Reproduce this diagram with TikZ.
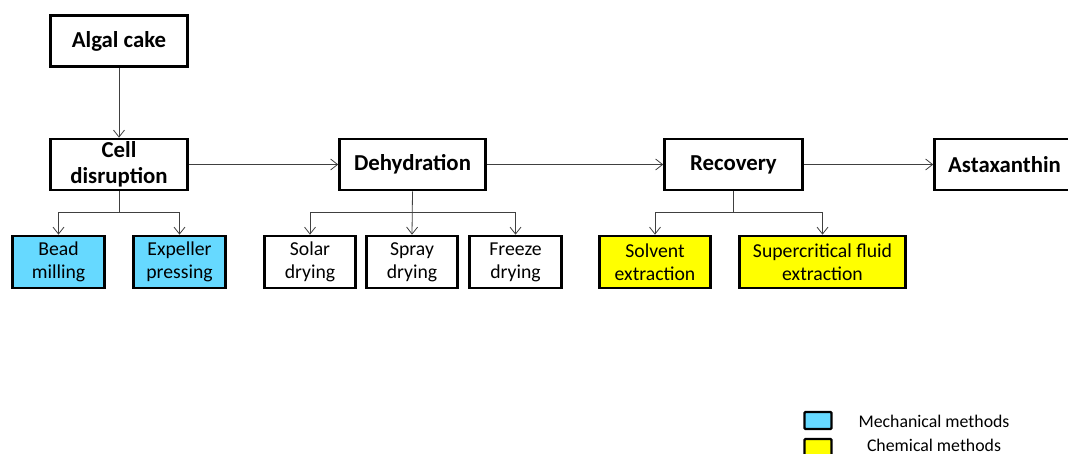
\documentclass[tikz,border=0pt]{standalone}
\usepackage{fontspec}
\setmainfont{Carlito}
\usetikzlibrary{arrows.meta}
\definecolor{mech}{HTML}{66D9FF}
\definecolor{chem}{HTML}{FFFF00}
\tikzset{
  bx/.style={draw=black, line width=2.6pt, fill=white, align=center, inner sep=0pt},
  head/.style={bx, font=\fontsize{22.8}{26}\selectfont\bfseries},
  sub/.style={bx, font=\fontsize{19.7}{23}\selectfont, minimum height=52pt},
  arr/.style={draw=black!75, line width=0.8pt, -{Straight Barb[length=7pt,width=11pt]}},
  ln/.style={draw=black!75, line width=0.8pt},
  leg/.style={draw=black, line width=2.4pt, rounded corners=1pt, minimum width=27pt, minimum height=17pt, inner sep=0pt},
  legtxt/.style={font=\fontsize{17.8}{20}\selectfont, inner sep=0pt}
}
\begin{document}
\begin{tikzpicture}[x=1pt,y=-1pt]
\useasboundingbox (0,0) rectangle (1068,454);
% main chain
\node[head, minimum width=137pt, minimum height=51pt] (algal) at (119,41) {Algal cake};
\node[head, minimum width=137pt, minimum height=51pt] (cell) at (119,164.5) {Cell\\disruption};
\node[head, minimum width=146pt, minimum height=51pt] (dehyd) at (412.5,164.5) {Dehydration};
\node[head, minimum width=138pt, minimum height=51pt] (recov) at (733.5,164.5) {Recovery};
\node[head, minimum width=140pt, minimum height=51pt] (asta) at (1004.5,164.5) {Astaxanthin};
% sub boxes
\node[sub, fill=mech, minimum width=92pt] (bead) at (58.5,262) {Bead\\milling};
\node[sub, fill=mech, minimum width=92pt] (expel) at (179.5,262) {Expeller\\pressing};
\node[sub, minimum width=91pt] (solar) at (310,262) {Solar\\drying};
\node[sub, minimum width=91pt] (spray) at (412,262) {Spray\\drying};
\node[sub, minimum width=92pt] (freeze) at (515.5,262) {Freeze\\drying};
\node[sub, fill=chem, minimum width=111pt] (solv) at (655,262) {Solvent\\extraction};
\node[sub, fill=chem, minimum width=166pt] (super) at (822.5,262) {Supercritical fluid\\extraction};
% main arrows
\draw[arr] (algal) -- (cell);
\draw[arr] (cell) -- (dehyd);
\draw[arr] (dehyd) -- (recov);
\draw[arr] (recov) -- (asta);
% branches
\coordinate (cj) at (119,212);
\draw[ln] (cell.south) -- (cj);
\draw[arr] (cj) -| (bead.north);
\draw[arr] (cj) -| (expel.north);
\coordinate (dj) at (412,212);
\draw[arr] (dehyd.south) -- (spray.north);
\draw[arr] (dj) -| (solar.north);
\draw[arr] (dj) -| (freeze.north);
\coordinate (rj) at (733.5,212);
\draw[ln] (recov.south) -- (rj);
\draw[arr] (rj) -| (solv.north);
\draw[arr] (rj) -| (super.north);
% legend
\node[leg, fill=mech] (legm) at (818,420.5) {};
\node[leg, fill=chem, minimum height=20pt] (legc) at (818,449) {};
\node[legtxt] (legmt) at (934,421) {Mechanical methods};
\node[legtxt] (legct) at (934,445.5) {Chemical methods};
\end{tikzpicture}
\end{document}
